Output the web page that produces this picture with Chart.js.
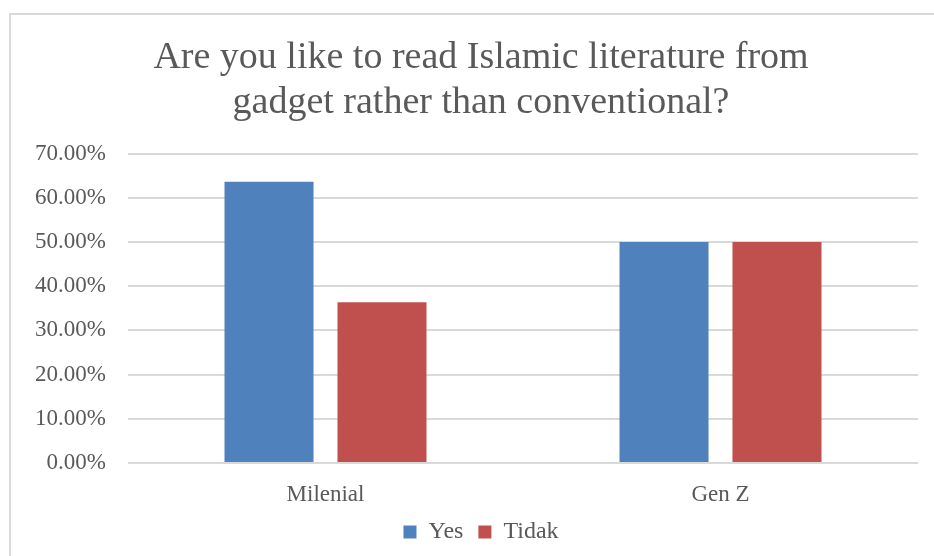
<!DOCTYPE html>
<html>
<head>
<meta charset="utf-8">
<script src="https://cdn.jsdelivr.net/npm/chart.js@4.4.1/dist/chart.umd.min.js"></script>
<style>
  html, body { margin: 0; padding: 0; background: #fff; }
  #wrap { width: 934px; height: 556px; position: relative; }
</style>
</head>
<body>
<div id="wrap"><canvas id="chart"></canvas></div>
<script>
// data
const categories = ['Milenial', 'Gen Z'];
const yesValues = [0.6364, 0.50];
const tidakValues = [0.3636, 0.50];
const titleLines = ['Are you like to read Islamic literature from', 'gadget rather than conventional?'];

const textColor = '#595959';
const serif = "'Liberation Serif', 'DejaVu Serif', serif";

// light frame round the chart, like the office chart border
const framePlugin = {
    id: 'frame',
    beforeDraw(chart) {
        const c = chart.ctx;
        c.save();
        c.fillStyle = '#fff';
        c.fillRect(0, 0, chart.width, chart.height);
        c.strokeStyle = '#d9d9d9';
        c.lineWidth = 2;
        c.strokeRect(10, 14, chart.width + 20, chart.height + 20);
        c.restore();
    }
};

const data = {
    labels: categories,
    datasets: [
        {
            label: 'Yes',
            data: yesValues,
            backgroundColor: '#4f81bd',
            borderWidth: 0
        },
        {
            label: 'Tidak',
            data: tidakValues,
            backgroundColor: '#c0504d',
            borderWidth: 0
        }
    ]
};

const options = {
    responsive: true,
    maintainAspectRatio: false,
    animation: false,
    layout: {
        padding: { top: 36, left: 28, right: 0, bottom: 2 }
    },
    datasets: {
        bar: { categoryPercentage: 0.572, barPercentage: 0.788 }
    },
    plugins: {
        title: {
            display: true,
            text: titleLines,
            color: textColor,
            font: { family: serif, size: 38, weight: 'normal', lineHeight: 1.18 },
            padding: { top: 0, bottom: 28 }
        },
        legend: {
            position: 'bottom',
            labels: {
                color: textColor,
                font: { family: serif, size: 24 },
                boxWidth: 13,
                boxHeight: 13,
                padding: 15
            }
        },
        tooltip: { enabled: false }
    },
    scales: {
        x: {
            grid: { display: false },
            border: { display: false },
            ticks: {
                color: textColor,
                font: { family: serif, size: 23 },
                padding: 10
            },
            // a bit taller than the labels need, lifts the plot bottom to 0%-line of the original
            afterFit(scale) { scale.height = 42; }
        },
        y: {
            min: 0,
            max: 0.7,
            grid: { color: '#d9d9d9', lineWidth: 2, drawTicks: false },
            border: { display: false },
            ticks: {
                stepSize: 0.1,
                color: textColor,
                font: { family: serif, size: 23 },
                padding: 22,
                callback: v => (v * 100).toFixed(2) + '%'
            },
            afterFit(scale) { scale.width = 100; }
        },
        // empty right axis, only keeps a margin right of the plot
        yRight: {
            position: 'right',
            grid: { display: false },
            border: { display: false },
            ticks: { display: false },
            afterFit(scale) { scale.width = 16; }
        }
    }
};

const ctx = document.getElementById('chart').getContext('2d');
const myChart = new Chart(ctx, {
    type: 'bar',
    data: data,
    options: options,
    plugins: [framePlugin]
});
</script>
</body>
</html>
